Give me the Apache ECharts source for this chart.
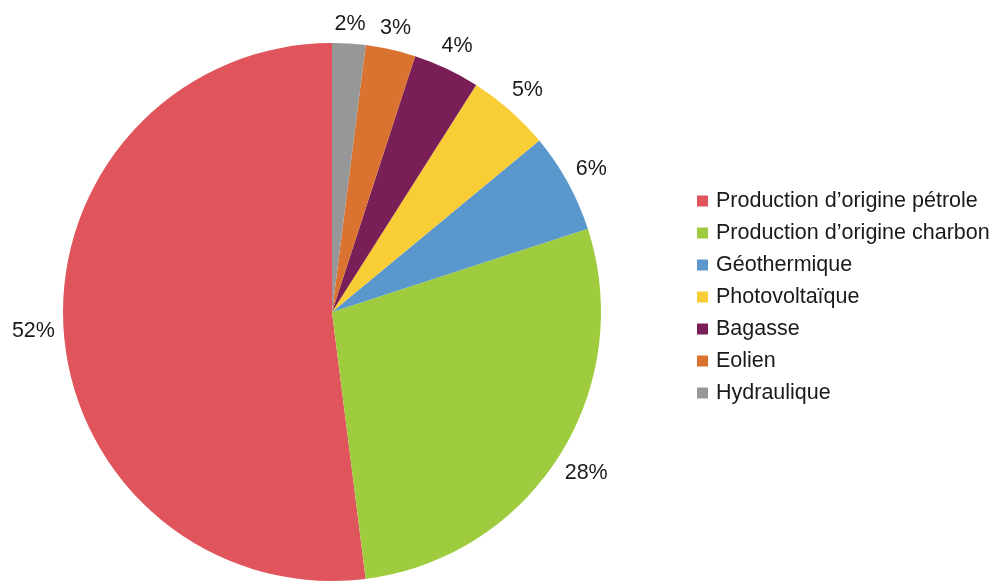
<!DOCTYPE html>
<html>
<head>
<meta charset="utf-8">
<script src="https://cdn.jsdelivr.net/npm/echarts@6/dist/echarts.min.js"></script>
<style>
  html, body { margin: 0; padding: 0; background: #ffffff; }
  #chart { width: 992px; height: 583px; }
</style>
</head>
<body>
<div id="chart"></div>
<script>
// Energy production mix (percent shares)
const categories = [
  'Production d\u2019origine p\u00e9trole',
  'Production d\u2019origine charbon',
  'G\u00e9othermique',
  'Photovolta\u00efque',
  'Bagasse',
  'Eolien',
  'Hydraulique'
];
const shares = [52, 28, 6, 5, 4, 3, 2];
const colors = ['#e0545b', '#9fcc3f', '#5a97cd', '#f8cd35', '#7a1e57', '#d9732f', '#979797'];

const FONT = '"Liberation Sans", Arial, sans-serif';
const CENTER = [332, 312];
const RADIUS = 269;
const START = 90;      // degrees, slices run counter-clockwise from 12 o'clock
const LABEL_GAP = 8;   // clearance between the rim and a label's box

// mid-angle (radians) of every slice, used to park labels just off the rim
const total = shares.reduce((a, b) => a + b, 0);
const midAngles = [];
(function () {
  let acc = 0;
  shares.forEach(v => {
    midAngles.push((START + (acc + v / 2) / total * 360) * Math.PI / 180);
    acc += v;
  });
})();

const data = categories.map((name, i) => ({ name, value: shares[i], itemStyle: { color: colors[i] } }));

const chart = echarts.init(document.getElementById('chart'));
chart.setOption({
  animation: false,
  backgroundColor: '#ffffff',
  legend: {
    orient: 'vertical',
    left: 697,
    top: 190,
    padding: 0,
    icon: 'rect',
    itemWidth: 11,
    itemHeight: 11,
    itemGap: 10,
    data: categories,
    textStyle: { fontFamily: FONT, fontSize: 21.5, color: '#1a1a1a', lineHeight: 22, padding: [0, 0, 0, 3] }
  },
  series: [
    {
      type: 'pie',
      center: CENTER,
      radius: RADIUS,
      startAngle: START,
      clockwise: false,
      avoidLabelOverlap: false,
      emphasis: { disabled: true },
      itemStyle: { borderWidth: 0 },
      label: {
        show: true,
        position: 'outside',
        formatter: (p) => p.value + '%',
        fontFamily: FONT,
        fontSize: 21.5,
        color: '#1a1a1a'
      },
      labelLine: { show: false },
      labelLayout: function (params) {
        const a = midAngles[params.dataIndex];
        const c = Math.cos(a), s = Math.sin(a);
        const w = params.labelRect.width, h = params.labelRect.height;
        const r = RADIUS + LABEL_GAP + Math.abs(c) * w / 2 + Math.abs(s) * h / 2;
        return {
          x: CENTER[0] + r * c,
          y: CENTER[1] - r * s,
          align: 'center',
          verticalAlign: 'middle'
        };
      },
      data: data
    }
  ]
});
</script>
</body>
</html>
